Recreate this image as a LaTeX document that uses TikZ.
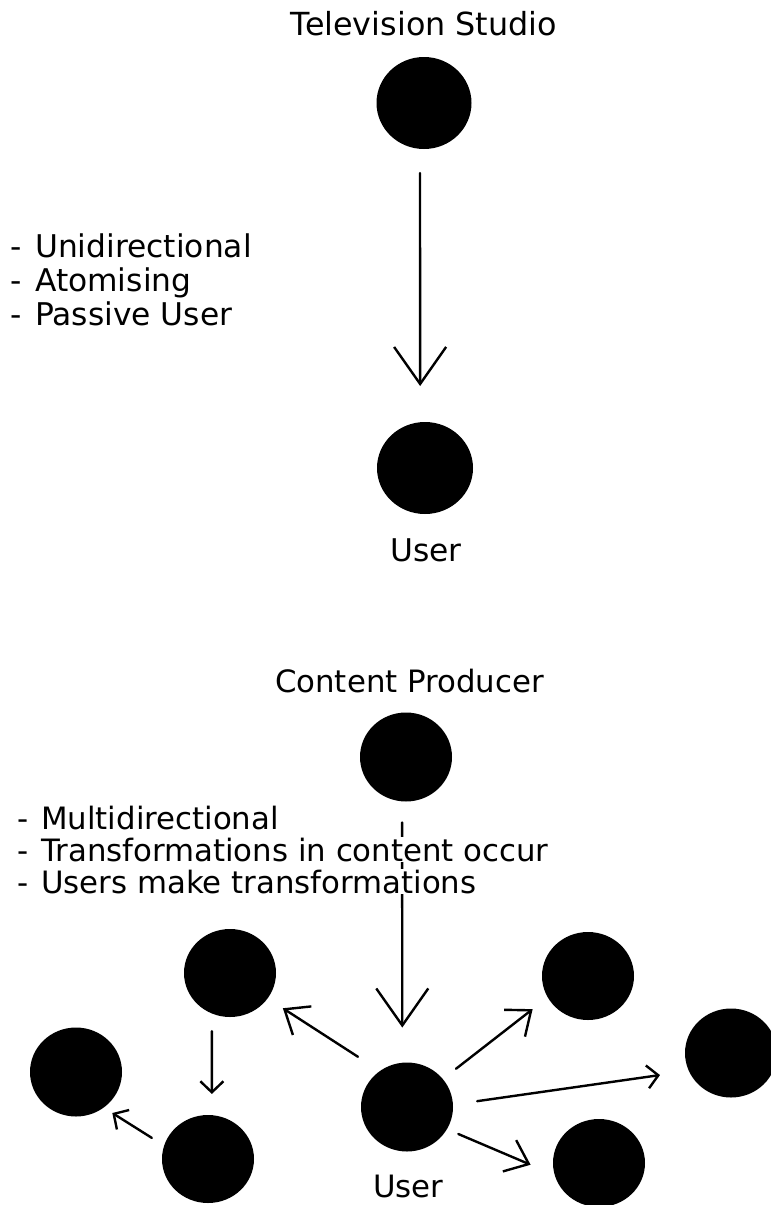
\documentclass[tikz,border=0pt]{standalone}
\usepackage{fontspec}
\setmainfont{DejaVu Sans}
\usetikzlibrary{shapes.geometric,arrows.meta}

% text sizes used in the picture
\newcommand{\txtA}{\fontsize{31.8pt}{34pt}\selectfont}
\newcommand{\txtB}{\fontsize{31.3pt}{34pt}\selectfont}
\newcommand{\txtC}{\fontsize{30.8pt}{33pt}\selectfont}
% bullet dash followed by a fixed gap
\newcommand{\bul}[1]{\makebox[#1][l]{-}}

\begin{document}
\begin{tikzpicture}[x=1pt,y=-1pt,
  dot/.style={ellipse,fill=black,draw=none,inner sep=0pt,
              minimum width=92pt,minimum height=89pt},
  link/.style={line width=2.4pt,line cap=round},
  bigtip/.style={link,-{Straight Barb[length=37pt,width=52pt]}},
  midtip/.style={link,-{Straight Barb[length=21pt,width=34pt]}},
  smalltip/.style={link,-{Straight Barb[length=11pt,width=23pt]}},
  lbl/.style={inner sep=0pt,text=black}
]
\useasboundingbox (0,0) rectangle (771,1205);
\fill[white] (0,0) rectangle (771,1205);
\clip (0,0) rectangle (771,1205);

% ---------- one-way broadcast ----------
\node[dot,minimum width=95pt,minimum height=92pt] (tv) at (424,103) {};
\node[dot,minimum width=96pt,minimum height=92pt] (usr1) at (425,468) {};

\draw[bigtip,shorten <=24pt,shorten >=36pt] (tv.265) -- (usr1.96);

\node[lbl,anchor=base] (tvlbl) at (424,35) {\txtA Television Studio};
\node[lbl,anchor=base] (usr1lbl) at (426,561) {\txtB User};

\node[lbl,anchor=base west] (p1) at (10,257) {\txtB\bul{25pt}Unidirectional};
\node[lbl,anchor=base west] (p2) at (10,291) {\txtB\bul{25pt}Atomising};
\node[lbl,anchor=base west] (p3) at (10,325) {\txtB\bul{25pt}Passive User};

% ---------- networked content ----------
\node[dot] (prod) at (406,757) {};
\node[dot] (usr2) at (407,1107) {};
\node[dot,minimum height=88pt] (ul) at (230,973) {};
\node[dot] (fl) at (76,1072) {};
\node[dot,minimum height=88pt] (ll) at (208,1159) {};
\node[dot,minimum height=88pt] (ur) at (588,976) {};
\node[dot] (fr) at (731,1053) {};
\node[dot,minimum height=88pt] (lr) at (599,1163) {};

\draw[bigtip,shorten <=21pt,shorten >=35pt] (prod.265) -- (usr2.96);
\draw[midtip,shorten <=26pt,shorten >=18pt] (usr2.127) -- (ul.-34);
\draw[smalltip,shorten <=17.5pt,shorten >=21pt] (ul.246) -- (ll.85);
\draw[smalltip,shorten <=14.4pt,shorten >=10pt] (ll.163) -- (fl.-52);
\draw[midtip,shorten <=16.5pt,shorten >=19pt] (usr2.38) -- (ur.208);
\draw[smalltip,shorten <=24.3pt,shorten >=29pt] (usr2.3) -- (fr.203);
\draw[midtip,shorten <=12.2pt,shorten >=26pt] (usr2.-29) -- (lr.195.5);

\node[lbl,anchor=base] (prodlbl) at (409.5,692) {\txtC Content Producer};
\node[lbl,anchor=base] (usr2lbl) at (408.5,1197) {\txtC User};

\node[lbl,anchor=base west,fill=white,inner sep=1pt] (q1) at (16,829) {\txtC\bul{24pt}Multidirectional};
\node[lbl,anchor=base west,fill=white,inner sep=1pt] (q2) at (16,861) {\txtC\bul{24pt}Transformations in content occur};
\node[lbl,anchor=base west,fill=white,inner sep=1pt] (q3) at (16,893) {\txtC\bul{24pt}Users make transformations};
\end{tikzpicture}
\end{document}
